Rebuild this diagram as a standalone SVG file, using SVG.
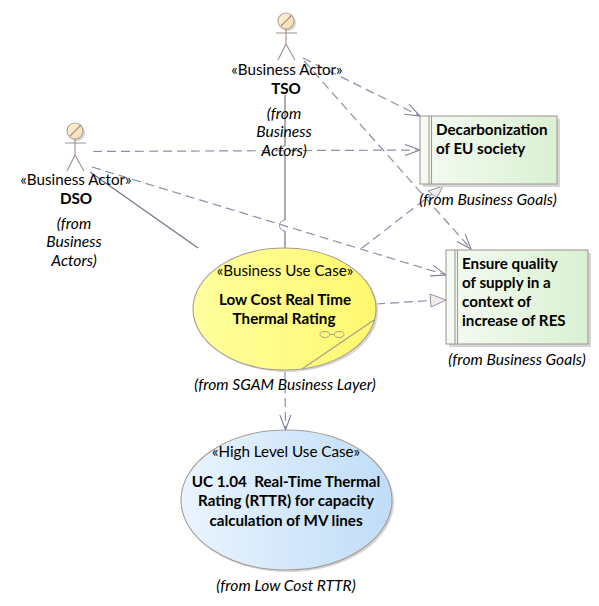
<svg xmlns="http://www.w3.org/2000/svg" width="599" height="606" viewBox="0 0 599 606">
<style>
text{font-family:"Lato","Open Sans","Liberation Sans",sans-serif;font-size:15.200px;fill:#000;text-anchor:middle;white-space:pre}
.b{font-weight:700}
.i{font-style:italic;font-size:15.600px}
.l{text-anchor:start}
.sol{fill:none;stroke:#6d7588;stroke-width:1.200}
.dash{fill:none;stroke:#8a90a6;stroke-width:1.200;stroke-dasharray:9 5}
.hop{fill:none;stroke:#8a90a6;stroke-width:1}
.open{fill:none;stroke:#7a8096;stroke-width:1.100}
.tri{fill:#f3ecec;stroke:#8a90a6;stroke-width:1}
.ol{stroke:#a89a92;stroke-width:1.100}
.sh{fill:#d6d6d6}
.act{fill:none;stroke:#a09088;stroke-width:1.100}
</style>
<defs>
<linearGradient id="gy" x1="0" x2="1" y1="0" y2="0"><stop offset="0" stop-color="#ffff9e"/><stop offset="1" stop-color="#fff86e"/></linearGradient>
<linearGradient id="gb" x1="0" x2="1" y1="0" y2="0"><stop offset="0" stop-color="#eaf4ff"/><stop offset="1" stop-color="#c0ddf7"/></linearGradient>
<linearGradient id="gg" x1="0" x2="1" y1="0" y2="0"><stop offset="0" stop-color="#f5fbf3"/><stop offset="1" stop-color="#d9f1d2"/></linearGradient>
<linearGradient id="gh" x1="0" x2="1" y1="0" y2="1"><stop offset="0" stop-color="#fff2d8"/><stop offset="1" stop-color="#f8dcae"/></linearGradient>
<marker id="open" markerUnits="userSpaceOnUse" markerWidth="20" markerHeight="20" refX="17" refY="10" orient="auto"><path d="M2 4.500 L17 10 L2 15.500" class="open"/></marker>
</defs>
<g id="connectors">
<path class="sol" d="M285 95V146"/><path class="hop" d="M285 146A5 5 0 0 0 285 156"/><path class="sol" d="M285 156V220"/><path class="hop" d="M285 220A5.500 5.500 0 0 0 285 231"/><path class="sol" d="M285 231V249"/>
<path class="sol" d="M90 172L198 248"/>
<path class="dash" d="M93 151.500L420 150" marker-end="url(#open)"/>
<path class="dash" d="M92 167L446 275" marker-end="url(#open)"/>
<path class="dash" d="M303 58L420 116" marker-end="url(#open)"/>
<path class="dash" d="M304 61L471 249" marker-end="url(#open)"/>
<path class="dash" d="M362 248L432 194"/>
<path class="tri" d="M443 186L428 191L437 198Z"/>
<path class="dash" d="M376 304L431 300.500"/>
<path class="tri" d="M446 300L430 294L431 307Z"/>
<path class="dash" d="M285 370L285.500 430" marker-end="url(#open)"/>
</g>
<g id="tso">
<circle class="sh" cx="288" cy="23" r="8"/>
<circle cx="286" cy="21" r="8" fill="url(#gh)" stroke="#b0a298" stroke-width="1.100"/>
<path class="act" d="M281 26L292 15M276 33H297M286 29V44M286 44L278 60M286 44L295 60"/>
<text x="287" y="75">«Business Actor»</text>
<text x="286" y="94" class="b">TSO</text>
<text x="284" y="119" class="i">(from</text>
<text x="284" y="137" class="i">Business</text>
<text x="284" y="156" class="i">Actors)</text>
</g>
<g id="dso">
<circle class="sh" cx="77" cy="133" r="8"/>
<circle cx="75" cy="131" r="8" fill="url(#gh)" stroke="#b0a298" stroke-width="1.100"/>
<path class="act" d="M70 136L81 125M65 143H86M75 139V155M75 155L67 171M75 155L84 171"/>
<text x="76" y="185">«Business Actor»</text>
<text x="76" y="204" class="b">DSO</text>
<text x="74" y="229" class="i">(from</text>
<text x="74" y="247" class="i">Business</text>
<text x="74" y="266" class="i">Actors)</text>
</g>
<g id="goal1">
<rect class="sh" x="423" y="119" width="137" height="68"/>
<rect class="ol" x="420" y="116" width="137" height="68" fill="url(#gg)"/>
<path class="ol" d="M429 116V184M431.500 116V184"/>
<text x="436" y="135" class="b l">Decarbonization</text>
<text x="436" y="154" class="b l">of EU society</text>
<text x="488" y="205" class="i">(from Business Goals)</text>
</g>
<g id="goal2">
<rect class="sh" x="449" y="253" width="142" height="94"/>
<rect class="ol" x="446" y="250" width="142" height="94" fill="url(#gg)"/>
<path class="ol" d="M455 250V344M457.500 250V344"/>
<text x="462" y="269" class="b l">Ensure quality</text>
<text x="462" y="288" class="b l">of supply in a</text>
<text x="462" y="307" class="b l">context of</text>
<text x="462" y="326" class="b l">increase of RES</text>
<text x="517" y="365" class="i">(from Business Goals)</text>
</g>
<g id="lowcost">
<ellipse class="sh" cx="286.500" cy="311" rx="91.500" ry="61"/>
<ellipse class="ol" cx="284.500" cy="309" rx="91.500" ry="61" fill="url(#gy)"/>
<path class="ol" d="M374 320L302 369" fill="none"/>
<ellipse cx="325" cy="334.500" rx="5" ry="3" fill="none" stroke="#a89f80"/>
<ellipse cx="339" cy="334.500" rx="5" ry="3" fill="none" stroke="#a89f80"/>
<path d="M330 334.500H334" stroke="#a89f80"/>
<text x="285" y="276">«Business Use Case»</text>
<text x="285" y="305" class="b">Low Cost Real Time</text>
<text x="284" y="324" class="b">Thermal Rating</text>
<text x="285" y="390" class="i">(from SGAM Business Layer)</text>
</g>
<g id="rttr">
<ellipse class="sh" cx="288.500" cy="502" rx="105.500" ry="70"/>
<ellipse class="ol" cx="286.500" cy="500" rx="105.500" ry="70" fill="url(#gb)"/>
<text x="286" y="457">«High Level Use Case»</text>
<text x="286" y="487" class="b">UC 1.04  Real-Time Thermal</text>
<text x="286" y="506" class="b">Rating (RTTR) for capacity</text>
<text x="286" y="526" class="b">calculation of MV lines</text>
<text x="286" y="591" class="i">(from Low Cost RTTR)</text>
</g>
</svg>
